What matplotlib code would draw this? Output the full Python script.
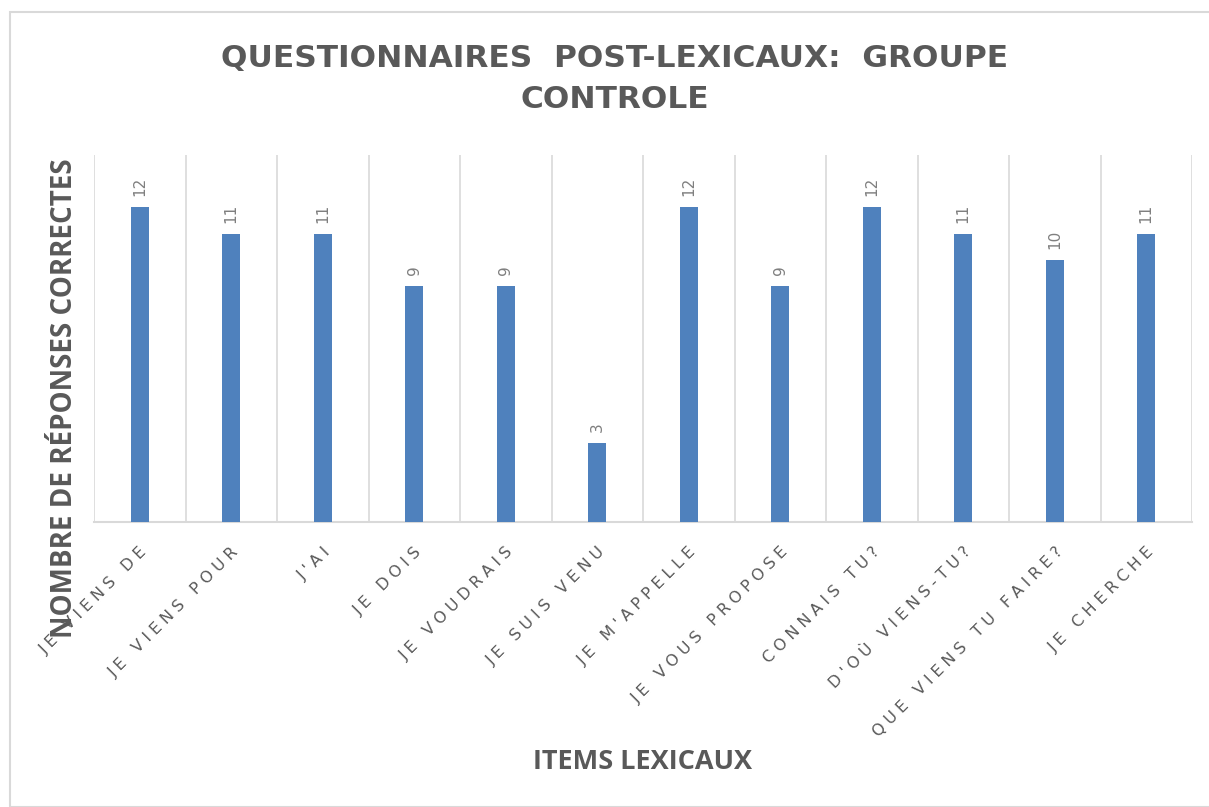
import matplotlib
matplotlib.use("Agg")
import matplotlib.pyplot as plt
from matplotlib.patches import Rectangle

categories = ["JE VIENS DE", "JE VIENS POUR", "J'AI", "JE DOIS", "JE VOUDRAIS",
              "JE SUIS VENU", "JE M'APPELLE", "JE VOUS PROPOSE", "CONNAIS TU?",
              "D'OÙ VIENS-TU?", "QUE VIENS TU FAIRE?", "JE CHERCHE"]
values = [12, 11, 11, 9, 9, 3, 12, 9, 12, 11, 10, 11]

title = "QUESTIONNAIRES  POST-LEXICAUX:  GROUPE\nCONTROLE"
xlabel = "ITEMS LEXICAUX"
ylabel = "NOMBRE DE RÉPONSES CORRECTES"

bar_color = "#4F81BD"
text_gray = "#595959"
grid_gray = "#D9D9D9"


def spaced(s):
    # emulate the wide letter spacing of the original tick labels
    gap = "\u2009\u200a"
    return (gap + " " + gap).join(gap.join(w) for w in s.split(" "))


fig = plt.figure(figsize=(12.09, 8.07), dpi=100)
fig.patches.append(Rectangle((10/1209, 0), 1.0, 1 - 12/807, transform=fig.transFigure,
                             fill=False, edgecolor="#D9D9D9", linewidth=1.5))

ax = fig.add_axes([94/1209, 1 - 522/807, (1192 - 94)/1209, (522 - 155)/807])
x = list(range(len(categories)))
ax.bar(x, values, width=0.2, color=bar_color, zorder=3)
ax.set_xlim(-0.5, len(categories) - 0.5)
ax.set_ylim(0, 14)

for b in [i - 0.5 for i in range(len(categories) + 1)]:
    ax.axvline(b, color=grid_gray, linewidth=1.2, zorder=1)

for spine in ["top", "right", "left"]:
    ax.spines[spine].set_visible(False)
ax.spines["bottom"].set_color(grid_gray)
ax.spines["bottom"].set_linewidth(1.5)
ax.set_yticks([])

ax.set_xticks(x)
ax.set_xticklabels([spaced(c) for c in categories], rotation=45, ha="right",
                   rotation_mode="anchor", fontsize=11.5, color=text_gray,
                   family="DejaVu Sans")
ax.tick_params(axis="x", length=0, pad=16)

for xi, v in zip(x, values):
    ax.annotate(str(v), (xi, v), xytext=(0, 8), textcoords="offset points",
                rotation=90, ha="center", va="bottom", fontsize=11, color="#7F7F7F")

fig.text(615/1209, 1 - 79/807, title, ha="center", va="center", fontsize=22.5,
         fontweight="bold", color=text_gray, family="DejaVu Sans", linespacing=1.5)
fig.text(643/1209, 1 - 762/807, xlabel, ha="center", va="center", fontsize=19.5,
         fontweight="bold", color=text_gray, family="Open Sans")
fig.text(65/1209, 1 - 398/807, ylabel, ha="center", va="center", rotation=90,
         fontsize=20, fontweight="bold", color=text_gray, family="Open Sans")

fig.savefig("out.png", dpi=100)
